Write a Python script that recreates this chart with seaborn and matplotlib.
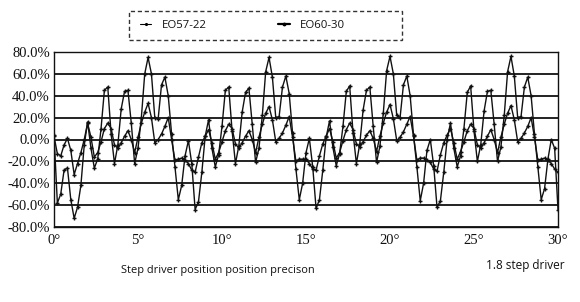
import numpy as np
import pandas as pd
import matplotlib
matplotlib.use("Agg")
import matplotlib.pyplot as plt
from matplotlib.lines import Line2D
from matplotlib.patches import Rectangle
import seaborn as sns

# angle grid (degrees), one reading every 0.2 deg
step_deg = 0.2
n_points = 151

series_names = ["EO57-22", "EO60-30"]

# EO57-22 readings (%), period by period (7.2 deg each) + tail
eo57_p1 = [4, -58, -50, -28, -26, -55, -72, -62, -42, -5, 16, -8, -26, -18, 10, 45, 48, 5,
           -22, -5, 28, 44, 45, 15, -22, -8, 20, 60, 75, 60, 20, 19, 50, 57, 40, 5]
eo57_p2 = [-25, -55, -42, -15, -1, -22, -64, -57, -30, 3, 18, -8, -25, -14, 12, 45, 48, 8,
           -22, -6, 25, 43, 47, 14, -21, -8, 22, 62, 75, 57, 20, 21, 48, 58, 42, 6]
eo57_p3 = [-27, -55, -40, -12, 1, -25, -63, -55, -28, 2, 17, -7, -24, -13, 12, 44, 49, 6,
           -22, -4, 27, 45, 48, 12, -21, -6, 24, 63, 76, 60, 22, 20, 50, 58, 40, 4]
eo57_p4 = [-25, -56, -40, -10, 0, -24, -62, -56, -30, 0, 15, -8, -25, -15, 10, 43, 49, 8,
           -20, -5, 26, 44, 45, 14, -20, -7, 22, 62, 76, 58, 20, 21, 48, 57, 40, 5]
eo57_tail = [-25, -55, -45, -18, 0, -8, -64]

# EO60-30 readings (%)
eo60_p1 = [3, -13, -15, -5, 1, -10, -32, -22, -12, 0, 15, 2, -16, -12, -2, 10, 15, 10,
           -5, -8, -3, 3, 8, 0, -12, 2, 15, 25, 33, 20, -3, 0, 5, 12, 20, 0]
eo60_p2 = [-19, -18, -17, -19, -22, -28, -30, -16, -3, 3, 9, -3, -18, -12, -2, 8, 14, 10,
           -4, -8, -3, 3, 8, 0, -12, 2, 14, 24, 30, 18, -2, 1, 6, 13, 21, 2]
eo60_p3 = [-20, -18, -18, -18, -22, -27, -28, -15, -4, 3, 10, -2, -17, -12, -1, 9, 15, 9,
           -4, -7, -2, 4, 8, 1, -11, 3, 15, 25, 32, 19, -1, 2, 7, 14, 21, 3]
eo60_p4 = [-19, -17, -17, -19, -21, -27, -29, -14, -3, 4, 10, -3, -18, -11, -2, 8, 14, 10,
           -5, -8, -3, 3, 9, 0, -12, 2, 14, 24, 31, 18, -2, 1, 6, 12, 20, 2]
eo60_tail = [-19, -18, -17, -19, -22, -27, -30]

x_ticks = [0, 5, 10, 15, 20, 25, 30]
x_tick_labels = ["0°", "5°", "10°", "15°", "20°", "25°", "30°"]
y_ticks = [-80, -60, -40, -20, 0, 20, 40, 60, 80]
y_tick_labels = ["-80.0%", "-60.0%", "-40.0%", "-20.0%", "0.0%", "20.0%", "40.0%", "60.0%", "80.0%"]

eo57 = eo57_p1 + eo57_p2 + eo57_p3 + eo57_p4 + eo57_tail
eo60 = eo60_p1 + eo60_p2 + eo60_p3 + eo60_p4 + eo60_tail
deg = [round(i * step_deg, 2) for i in range(n_points)]

df = pd.DataFrame({
    "deg": deg * 2,
    "val": eo57 + eo60,
    "series": [series_names[0]] * n_points + [series_names[1]] * n_points,
})

sns.set_style("white")
fig = plt.figure(figsize=(5.8, 3.02), dpi=100)
ax = fig.add_axes([54 / 580, 1 - 227 / 302, (558 - 54) / 580, (227 - 52) / 302])

sns.lineplot(data=df, x="deg", y="val", hue="series", style="series",
             palette=["#111111", "#111111"], markers=["+", "+"], dashes=False,
             linewidth=1.0, markersize=3.5, markeredgewidth=1.0,
             markeredgecolor="#111111", ax=ax, legend=False)

ax.set_xlim(0, 30)
ax.set_ylim(-80, 80)
ax.set_xlabel("")
ax.set_ylabel("")
serif = ["Liberation Serif", "DejaVu Serif"]
ax.set_xticks(x_ticks)
ax.set_xticklabels(x_tick_labels, family=serif, fontsize=10.5, color="#111111")
ax.set_yticks(y_ticks)
ax.set_yticklabels(y_tick_labels, family=serif, fontsize=10.5, color="#111111")
ax.tick_params(axis="y", length=0, pad=3)
ax.tick_params(axis="x", length=0, pad=5)
ax.yaxis.grid(True, color="#111111", linewidth=1.3)
ax.xaxis.grid(False)
ax.set_axisbelow(True)
for s in ax.spines.values():
    s.set_visible(True)
    s.set_color("#111111")
    s.set_linewidth(1.0)

# legend: dashed box + entries
fig.patches.append(Rectangle((129 / 580, 1 - 40 / 302), 273 / 580, 29 / 302,
                             transform=fig.transFigure, fill=False,
                             edgecolor="#333333", linewidth=1.0,
                             linestyle=(0, (3, 2))))
handles = [Line2D([], [], color="black", linewidth=0.8, marker=".", markersize=2.5),
           Line2D([], [], color="black", linewidth=1.6, marker=".", markersize=3.5)]
leg = fig.legend(handles, series_names, loc="center left",
                 bbox_to_anchor=(140 / 580, 1 - 25 / 302),
                 ncol=2, frameon=False,
                 handlelength=1.0, handletextpad=0.9, columnspacing=6.3,
                 borderpad=0, borderaxespad=0,
                 prop={"family": ["Open Sans", "DejaVu Sans"], "size": 8.2})
for t in leg.get_texts():
    t.set_color("#111111")

fig.text(121 / 580, 1 - 270 / 302, "Step driver position position precison",
         family=["Open Sans", "DejaVu Sans"], fontsize=7.9, va="center", ha="left", color="#111111")
fig.text(565 / 580, 1 - 265 / 302, "1.8 step driver",
         family=["Open Sans", "DejaVu Sans"], fontsize=8.5, va="center", ha="right", color="#111111")

fig.savefig("out.png", dpi=100, facecolor="white")
